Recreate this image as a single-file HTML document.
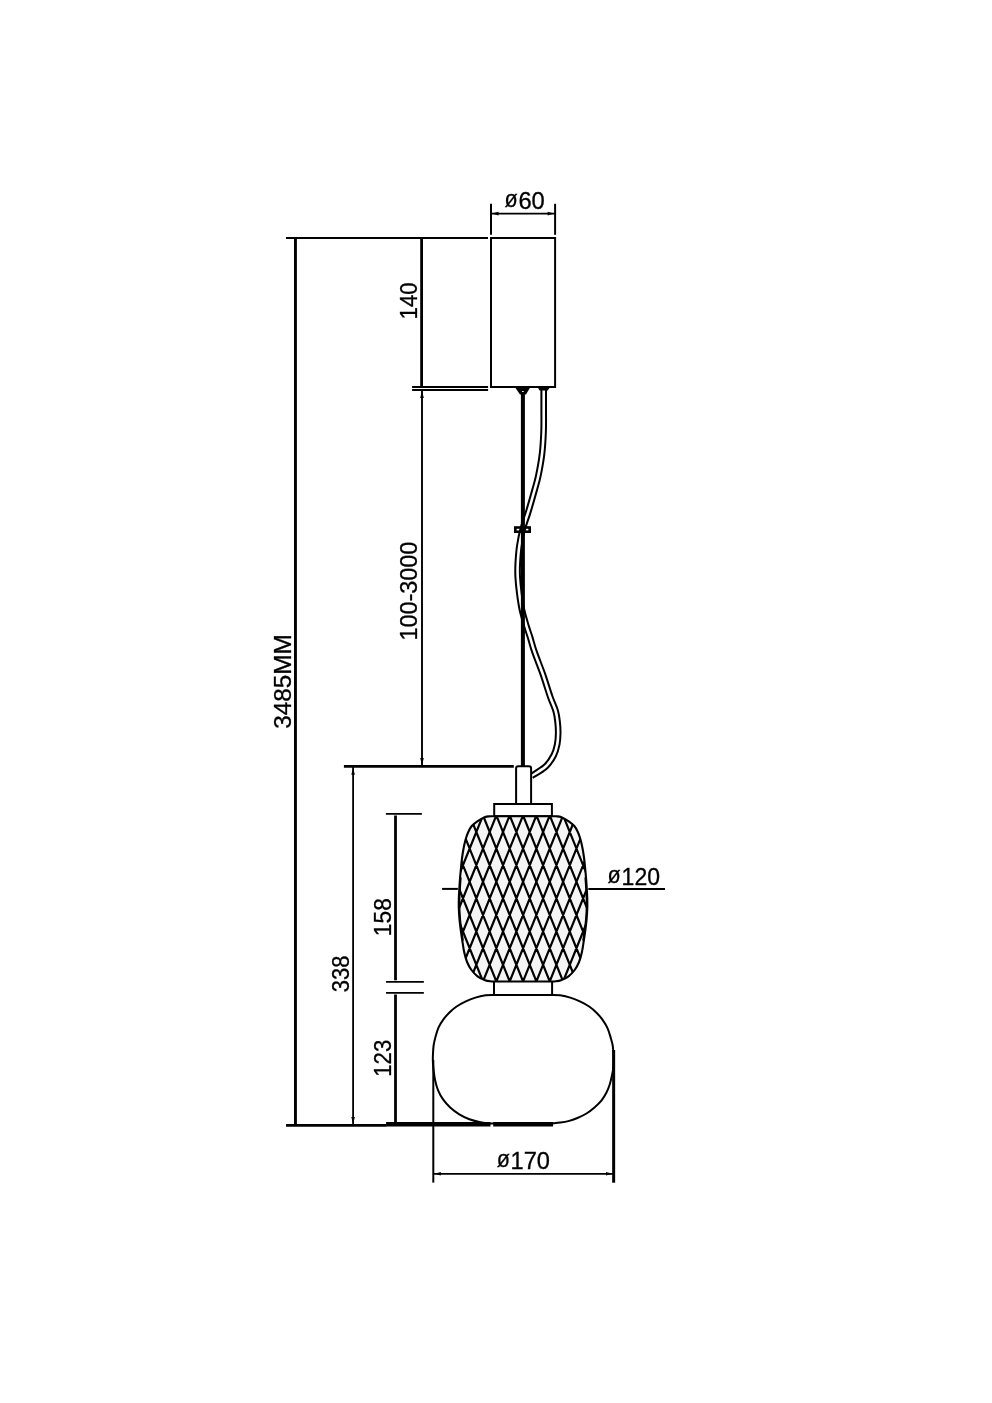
<!DOCTYPE html>
<html lang="en"><head><meta charset="utf-8"><title>Pendant lamp dimensions</title>
<style>
html,body{margin:0;padding:0;background:#fff;}
body{width:992px;height:1403px;overflow:hidden;}
svg{display:block;will-change:transform;}
svg text{font-family:"Liberation Sans", sans-serif;font-size:23.3px;fill:#000;stroke:#000;stroke-width:0.3px;}
</style></head><body>
<svg width="992" height="1403" viewBox="0 0 992 1403" fill="none" stroke="#000" stroke-linecap="butt">
<rect x="0" y="0" width="992" height="1403" fill="#fff" stroke="none"/>
<defs><clipPath id="bodyclip"><path d="M490.05,816.30 C489.13,816.45 486.67,816.37 484.55,817.20 C482.43,818.03 479.48,819.83 477.35,821.30 C475.22,822.77 473.28,824.18 471.75,826.00 C470.22,827.82 469.20,829.87 468.15,832.20 C467.10,834.53 466.23,837.20 465.45,840.00 C464.67,842.80 464.02,846.00 463.45,849.00 C462.88,852.00 462.43,855.17 462.05,858.00 C461.67,860.83 461.48,862.67 461.15,866.00 C460.82,869.33 460.35,874.30 460.05,878.00 C459.75,881.70 459.55,884.87 459.35,888.20 C459.15,891.53 458.94,894.70 458.85,898.00 C458.76,901.30 458.68,904.33 458.80,908.00 C458.92,911.67 459.22,916.33 459.55,920.00 C459.87,923.67 460.31,926.67 460.75,930.00 C461.19,933.33 461.63,936.33 462.20,940.00 C462.77,943.67 463.34,948.33 464.15,952.00 C464.96,955.67 465.83,959.00 467.05,962.00 C468.27,965.00 469.70,967.62 471.45,970.00 C473.20,972.38 475.28,974.60 477.55,976.30 C479.82,978.00 482.72,979.33 485.05,980.20 C487.38,981.07 490.47,981.28 491.55,981.50 L554.55,981.50 C555.63,981.28 558.72,981.07 561.05,980.20 C563.38,979.33 566.28,978.00 568.55,976.30 C570.82,974.60 572.90,972.38 574.65,970.00 C576.40,967.62 577.83,965.00 579.05,962.00 C580.27,959.00 581.14,955.67 581.95,952.00 C582.76,948.33 583.33,943.67 583.90,940.00 C584.47,936.33 584.91,933.33 585.35,930.00 C585.79,926.67 586.22,923.67 586.55,920.00 C586.88,916.33 587.18,911.67 587.30,908.00 C587.42,904.33 587.34,901.30 587.25,898.00 C587.16,894.70 586.95,891.53 586.75,888.20 C586.55,884.87 586.35,881.70 586.05,878.00 C585.75,874.30 585.28,869.33 584.95,866.00 C584.62,862.67 584.43,860.83 584.05,858.00 C583.67,855.17 583.22,852.00 582.65,849.00 C582.08,846.00 581.43,842.80 580.65,840.00 C579.87,837.20 579.00,834.53 577.95,832.20 C576.90,829.87 575.88,827.82 574.35,826.00 C572.82,824.18 570.88,822.77 568.75,821.30 C566.62,819.83 563.67,818.03 561.55,817.20 C559.43,816.37 556.97,816.45 556.05,816.30 Z"/></clipPath></defs>
<g id="cable">
<path d="M543.70,389.00 C543.70,392.50 543.72,403.00 543.70,410.00 C543.68,417.00 543.87,423.78 543.60,431.00 C543.33,438.22 542.97,445.90 542.10,453.30 C541.23,460.70 539.65,469.28 538.40,475.40 C537.15,481.52 536.30,483.87 534.60,490.00 C532.90,496.13 530.13,505.87 528.20,512.20 C526.27,518.53 524.47,522.47 523.00,528.00 C521.53,533.53 520.27,539.57 519.40,545.40 C518.53,551.23 518.08,557.80 517.80,563.00 C517.52,568.20 517.45,571.55 517.70,576.60 C517.95,581.65 518.58,587.73 519.30,593.30 C520.02,598.87 520.78,604.47 522.00,610.00 C523.22,615.53 525.23,621.90 526.60,626.50 C527.97,631.10 528.87,633.32 530.20,637.60 C531.53,641.88 532.48,646.07 534.60,652.20 C536.72,658.33 540.32,667.02 542.90,674.40 C545.48,681.78 547.97,690.38 550.10,696.50 C552.23,702.62 554.45,706.82 555.70,711.10 C556.95,715.38 557.18,718.50 557.60,722.20 C558.02,725.90 558.27,729.60 558.20,733.30 C558.13,737.00 557.95,740.72 557.20,744.40 C556.45,748.08 555.62,751.72 553.70,755.40 C551.78,759.08 549.40,763.07 545.70,766.50 C542.00,769.93 533.87,774.42 531.50,776.00" stroke-width="6.6"/>
<path d="M543.70,389.00 C543.70,392.50 543.72,403.00 543.70,410.00 C543.68,417.00 543.87,423.78 543.60,431.00 C543.33,438.22 542.97,445.90 542.10,453.30 C541.23,460.70 539.65,469.28 538.40,475.40 C537.15,481.52 536.30,483.87 534.60,490.00 C532.90,496.13 530.13,505.87 528.20,512.20 C526.27,518.53 524.47,522.47 523.00,528.00 C521.53,533.53 520.27,539.57 519.40,545.40 C518.53,551.23 518.08,557.80 517.80,563.00 C517.52,568.20 517.45,571.55 517.70,576.60 C517.95,581.65 518.58,587.73 519.30,593.30 C520.02,598.87 520.78,604.47 522.00,610.00 C523.22,615.53 525.23,621.90 526.60,626.50 C527.97,631.10 528.87,633.32 530.20,637.60 C531.53,641.88 532.48,646.07 534.60,652.20 C536.72,658.33 540.32,667.02 542.90,674.40 C545.48,681.78 547.97,690.38 550.10,696.50 C552.23,702.62 554.45,706.82 555.70,711.10 C556.95,715.38 557.18,718.50 557.60,722.20 C558.02,725.90 558.27,729.60 558.20,733.30 C558.13,737.00 557.95,740.72 557.20,744.40 C556.45,748.08 555.62,751.72 553.70,755.40 C551.78,759.08 549.40,763.07 545.70,766.50 C542.00,769.93 533.87,774.42 531.50,776.00" stroke="#fff" stroke-width="2.6"/>
</g>
<g id="canopy">
<rect x="491" y="238" width="64.1" height="149" stroke-width="2.0"/>
<polygon points="514.8,387 530.4,387 526,394.5 520,394.5" fill="#000" stroke="none"/>
<polygon points="537.5,387 550.2,387 547.6,390.6 539.6,390.6" fill="#000" stroke="none"/>
<rect x="522.1" y="391.0" width="1.6" height="1.8" fill="#fff" stroke="none"/>
</g>
<g id="rod">
<line x1="522.9" y1="392" x2="522.9" y2="766" stroke-width="4.0"/>
<rect x="515.3" y="527.5" width="14.4" height="4.2" stroke-width="2.6" fill="none"/>
</g>
<g id="lamp">
<path d="M516.1,803.8 L516.1,768.4 Q516.1,766.2 518.3,766.2 L528.9,766.2 Q531.1,766.2 531.1,768.4 L531.1,803.8" stroke-width="2.0" fill="#fff"/>
<rect x="494.2" y="804" width="57.7" height="12.2" stroke-width="2.0" fill="#fff"/>
<path d="M490.05,816.30 C489.13,816.45 486.67,816.37 484.55,817.20 C482.43,818.03 479.48,819.83 477.35,821.30 C475.22,822.77 473.28,824.18 471.75,826.00 C470.22,827.82 469.20,829.87 468.15,832.20 C467.10,834.53 466.23,837.20 465.45,840.00 C464.67,842.80 464.02,846.00 463.45,849.00 C462.88,852.00 462.43,855.17 462.05,858.00 C461.67,860.83 461.48,862.67 461.15,866.00 C460.82,869.33 460.35,874.30 460.05,878.00 C459.75,881.70 459.55,884.87 459.35,888.20 C459.15,891.53 458.94,894.70 458.85,898.00 C458.76,901.30 458.68,904.33 458.80,908.00 C458.92,911.67 459.22,916.33 459.55,920.00 C459.87,923.67 460.31,926.67 460.75,930.00 C461.19,933.33 461.63,936.33 462.20,940.00 C462.77,943.67 463.34,948.33 464.15,952.00 C464.96,955.67 465.83,959.00 467.05,962.00 C468.27,965.00 469.70,967.62 471.45,970.00 C473.20,972.38 475.28,974.60 477.55,976.30 C479.82,978.00 482.72,979.33 485.05,980.20 C487.38,981.07 490.47,981.28 491.55,981.50 L554.55,981.50 C555.63,981.28 558.72,981.07 561.05,980.20 C563.38,979.33 566.28,978.00 568.55,976.30 C570.82,974.60 572.90,972.38 574.65,970.00 C576.40,967.62 577.83,965.00 579.05,962.00 C580.27,959.00 581.14,955.67 581.95,952.00 C582.76,948.33 583.33,943.67 583.90,940.00 C584.47,936.33 584.91,933.33 585.35,930.00 C585.79,926.67 586.22,923.67 586.55,920.00 C586.88,916.33 587.18,911.67 587.30,908.00 C587.42,904.33 587.34,901.30 587.25,898.00 C587.16,894.70 586.95,891.53 586.75,888.20 C586.55,884.87 586.35,881.70 586.05,878.00 C585.75,874.30 585.28,869.33 584.95,866.00 C584.62,862.67 584.43,860.83 584.05,858.00 C583.67,855.17 583.22,852.00 582.65,849.00 C582.08,846.00 581.43,842.80 580.65,840.00 C579.87,837.20 579.00,834.53 577.95,832.20 C576.90,829.87 575.88,827.82 574.35,826.00 C572.82,824.18 570.88,822.77 568.75,821.30 C566.62,819.83 563.67,818.03 561.55,817.20 C559.43,816.37 556.97,816.45 556.05,816.30 Z" fill="#f5f5f5" stroke="none"/>
<g clip-path="url(#bodyclip)"><path d="M255.61,814.30 L323.64,983.50 M256.49,814.30 L188.46,983.50 M268.96,814.30 L336.99,983.50 M269.84,814.30 L201.81,983.50 M282.31,814.30 L350.34,983.50 M283.19,814.30 L215.16,983.50 M295.66,814.30 L363.69,983.50 M296.54,814.30 L228.51,983.50 M309.01,814.30 L377.04,983.50 M309.89,814.30 L241.86,983.50 M322.36,814.30 L390.39,983.50 M323.24,814.30 L255.21,983.50 M335.71,814.30 L403.74,983.50 M336.59,814.30 L268.56,983.50 M349.06,814.30 L417.09,983.50 M349.94,814.30 L281.91,983.50 M362.41,814.30 L430.44,983.50 M363.29,814.30 L295.26,983.50 M375.76,814.30 L443.79,983.50 M376.64,814.30 L308.61,983.50 M389.11,814.30 L457.14,983.50 M389.99,814.30 L321.96,983.50 M402.46,814.30 L470.49,983.50 M403.34,814.30 L335.31,983.50 M415.81,814.30 L483.84,983.50 M416.69,814.30 L348.66,983.50 M429.16,814.30 L497.19,983.50 M430.04,814.30 L362.01,983.50 M442.51,814.30 L510.54,983.50 M443.39,814.30 L375.36,983.50 M455.86,814.30 L523.89,983.50 M456.74,814.30 L388.71,983.50 M469.21,814.30 L537.24,983.50 M470.09,814.30 L402.06,983.50 M482.56,814.30 L550.59,983.50 M483.44,814.30 L415.41,983.50 M495.91,814.30 L563.94,983.50 M496.79,814.30 L428.76,983.50 M509.26,814.30 L577.29,983.50 M510.14,814.30 L442.11,983.50 M522.61,814.30 L590.64,983.50 M523.49,814.30 L455.46,983.50 M535.96,814.30 L603.99,983.50 M536.84,814.30 L468.81,983.50 M549.31,814.30 L617.34,983.50 M550.19,814.30 L482.16,983.50 M562.66,814.30 L630.69,983.50 M563.54,814.30 L495.51,983.50 M576.01,814.30 L644.04,983.50 M576.89,814.30 L508.86,983.50 M589.36,814.30 L657.39,983.50 M590.24,814.30 L522.21,983.50 M602.71,814.30 L670.74,983.50 M603.59,814.30 L535.56,983.50 M616.06,814.30 L684.09,983.50 M616.94,814.30 L548.91,983.50 M629.41,814.30 L697.44,983.50 M630.29,814.30 L562.26,983.50 M642.76,814.30 L710.79,983.50 M643.64,814.30 L575.61,983.50 M656.11,814.30 L724.14,983.50 M656.99,814.30 L588.96,983.50 M669.46,814.30 L737.49,983.50 M670.34,814.30 L602.31,983.50 M682.81,814.30 L750.84,983.50 M683.69,814.30 L615.66,983.50 M696.16,814.30 L764.19,983.50 M697.04,814.30 L629.01,983.50 M709.51,814.30 L777.54,983.50 M710.39,814.30 L642.36,983.50 M722.86,814.30 L790.89,983.50 M723.74,814.30 L655.71,983.50 M736.21,814.30 L804.24,983.50 M737.09,814.30 L669.06,983.50 M749.56,814.30 L817.59,983.50 M750.44,814.30 L682.41,983.50 M762.91,814.30 L830.94,983.50 M763.79,814.30 L695.76,983.50 M776.26,814.30 L844.29,983.50 M777.14,814.30 L709.11,983.50 M789.61,814.30 L857.64,983.50 M790.49,814.30 L722.46,983.50" stroke-width="2.2"/></g>
<path d="M490.05,816.30 C489.13,816.45 486.67,816.37 484.55,817.20 C482.43,818.03 479.48,819.83 477.35,821.30 C475.22,822.77 473.28,824.18 471.75,826.00 C470.22,827.82 469.20,829.87 468.15,832.20 C467.10,834.53 466.23,837.20 465.45,840.00 C464.67,842.80 464.02,846.00 463.45,849.00 C462.88,852.00 462.43,855.17 462.05,858.00 C461.67,860.83 461.48,862.67 461.15,866.00 C460.82,869.33 460.35,874.30 460.05,878.00 C459.75,881.70 459.55,884.87 459.35,888.20 C459.15,891.53 458.94,894.70 458.85,898.00 C458.76,901.30 458.68,904.33 458.80,908.00 C458.92,911.67 459.22,916.33 459.55,920.00 C459.87,923.67 460.31,926.67 460.75,930.00 C461.19,933.33 461.63,936.33 462.20,940.00 C462.77,943.67 463.34,948.33 464.15,952.00 C464.96,955.67 465.83,959.00 467.05,962.00 C468.27,965.00 469.70,967.62 471.45,970.00 C473.20,972.38 475.28,974.60 477.55,976.30 C479.82,978.00 482.72,979.33 485.05,980.20 C487.38,981.07 490.47,981.28 491.55,981.50 L554.55,981.50 C555.63,981.28 558.72,981.07 561.05,980.20 C563.38,979.33 566.28,978.00 568.55,976.30 C570.82,974.60 572.90,972.38 574.65,970.00 C576.40,967.62 577.83,965.00 579.05,962.00 C580.27,959.00 581.14,955.67 581.95,952.00 C582.76,948.33 583.33,943.67 583.90,940.00 C584.47,936.33 584.91,933.33 585.35,930.00 C585.79,926.67 586.22,923.67 586.55,920.00 C586.88,916.33 587.18,911.67 587.30,908.00 C587.42,904.33 587.34,901.30 587.25,898.00 C587.16,894.70 586.95,891.53 586.75,888.20 C586.55,884.87 586.35,881.70 586.05,878.00 C585.75,874.30 585.28,869.33 584.95,866.00 C584.62,862.67 584.43,860.83 584.05,858.00 C583.67,855.17 583.22,852.00 582.65,849.00 C582.08,846.00 581.43,842.80 580.65,840.00 C579.87,837.20 579.00,834.53 577.95,832.20 C576.90,829.87 575.88,827.82 574.35,826.00 C572.82,824.18 570.88,822.77 568.75,821.30 C566.62,819.83 563.67,818.03 561.55,817.20 C559.43,816.37 556.97,816.45 556.05,816.30 Z" stroke-width="2.1"/>
<path d="M460.95,878.00 C460.83,879.70 460.45,884.87 460.25,888.20 C460.05,891.53 459.84,894.70 459.75,898.00 C459.66,901.30 459.58,904.33 459.70,908.00 C459.82,911.67 460.12,916.33 460.45,920.00 C460.77,923.67 461.21,926.67 461.65,930.00 C462.09,933.33 462.86,938.33 463.10,940.00" stroke-width="1.4" stroke-linecap="round"/>
<path d="M585.15,878.00 C585.27,879.70 585.65,884.87 585.85,888.20 C586.05,891.53 586.26,894.70 586.35,898.00 C586.44,901.30 586.52,904.33 586.40,908.00 C586.28,911.67 585.98,916.33 585.65,920.00 C585.32,923.67 584.89,926.67 584.45,930.00 C584.01,933.33 583.24,938.33 583.00,940.00" stroke-width="1.4" stroke-linecap="round"/>
<line x1="494.0" y1="981.5" x2="494.0" y2="994.8" stroke-width="2.0"/>
<line x1="552.1" y1="981.5" x2="552.1" y2="994.8" stroke-width="2.0"/>
<path d="M494.05,994.90 C492.62,994.97 488.61,994.85 485.50,995.30 C482.39,995.75 478.77,996.55 475.40,997.60 C472.03,998.65 468.49,1000.08 465.30,1001.60 C462.11,1003.12 458.93,1004.85 456.25,1006.70 C453.57,1008.55 451.39,1010.52 449.20,1012.70 C447.01,1014.88 444.87,1017.37 443.10,1019.80 C441.33,1022.23 439.85,1024.53 438.60,1027.30 C437.35,1030.07 436.43,1033.37 435.60,1036.40 C434.77,1039.43 434.05,1042.30 433.60,1045.50 C433.15,1048.70 433.02,1052.85 432.90,1055.60 C432.78,1058.35 432.78,1059.57 432.90,1062.00 C433.02,1064.43 433.23,1067.17 433.60,1070.20 C433.97,1073.23 434.35,1076.85 435.10,1080.20 C435.85,1083.55 436.77,1087.10 438.10,1090.30 C439.43,1093.50 441.08,1096.53 443.10,1099.40 C445.12,1102.27 447.50,1105.02 450.20,1107.50 C452.90,1109.98 456.10,1112.35 459.30,1114.30 C462.50,1116.25 466.05,1117.92 469.40,1119.20 C472.75,1120.48 476.38,1121.33 479.40,1122.00 C482.42,1122.67 485.07,1122.95 487.50,1123.20 C489.93,1123.45 492.92,1123.45 494.00,1123.50 L552.70,1123.30 C553.95,1123.18 557.60,1122.97 560.20,1122.60 C562.80,1122.23 565.43,1121.87 568.30,1121.10 C571.17,1120.33 574.37,1119.27 577.40,1118.00 C580.43,1116.73 583.65,1115.25 586.50,1113.50 C589.35,1111.75 591.98,1109.68 594.50,1107.50 C597.02,1105.32 599.58,1102.93 601.60,1100.40 C603.62,1097.87 605.23,1094.98 606.60,1092.30 C607.97,1089.62 608.90,1087.15 609.80,1084.30 C610.70,1081.45 611.43,1077.83 612.00,1075.20 C612.57,1072.57 612.95,1070.70 613.20,1068.50 C613.45,1066.30 613.45,1064.15 613.50,1062.00 C613.55,1059.85 613.63,1058.35 613.50,1055.60 C613.37,1052.85 613.18,1048.53 612.70,1045.50 C612.22,1042.47 611.45,1040.27 610.60,1037.40 C609.75,1034.53 608.93,1031.23 607.60,1028.30 C606.27,1025.37 604.45,1022.40 602.60,1019.80 C600.75,1017.20 598.68,1014.88 596.50,1012.70 C594.32,1010.52 592.18,1008.55 589.50,1006.70 C586.82,1004.85 583.60,1003.12 580.40,1001.60 C577.20,1000.08 573.67,998.65 570.30,997.60 C566.93,996.55 563.25,995.75 560.20,995.30 C557.15,994.85 553.37,994.97 552.00,994.90 Z" stroke-width="2.0"/>
</g>
<g id="dims">
<line x1="491" y1="203.8" x2="491" y2="234.8" stroke-width="2.0"/>
<line x1="555.1" y1="203.8" x2="555.1" y2="234.8" stroke-width="2.0"/>
<line x1="491" y1="213.6" x2="555.1" y2="213.6" stroke-width="1.6"/>
<polygon points="492,213.6 498.50,215.40 498.50,211.80" fill="#000" stroke="none"/>
<polygon points="554.1,213.6 547.60,211.80 547.60,215.40" fill="#000" stroke="none"/>
<line x1="286" y1="238" x2="488" y2="238" stroke-width="2.0"/>
<line x1="295.45" y1="238" x2="295.45" y2="1125" stroke-width="2.9"/>
<line x1="421.6" y1="238" x2="421.6" y2="386.0" stroke-width="2.8"/>
<line x1="412.1" y1="387.0" x2="488.1" y2="387.0" stroke-width="2.0"/>
<line x1="412.1" y1="390.0" x2="488.1" y2="390.0" stroke-width="1.8"/>
<line x1="422.0" y1="391" x2="422.0" y2="766" stroke-width="1.9"/>
<polygon points="422.0,391.0 420.20,398.00 423.80,398.00" fill="#000" stroke="none"/>
<polygon points="422.0,765 423.80,758.00 420.20,758.00" fill="#000" stroke="none"/>
<line x1="343.9" y1="766.4" x2="513.8" y2="766.4" stroke-width="2.6"/>
<line x1="353.1" y1="767" x2="353.1" y2="1124" stroke-width="1.8"/>
<polygon points="353.1,767.7 351.30,774.70 354.90,774.70" fill="#000" stroke="none"/>
<polygon points="353.1,1124.0 354.90,1117.00 351.30,1117.00" fill="#000" stroke="none"/>
<line x1="385.9" y1="813.9" x2="421.9" y2="813.9" stroke-width="1.9"/>
<line x1="395.5" y1="815.5" x2="395.5" y2="980.3" stroke-width="2.8"/>
<line x1="386.05" y1="981.9" x2="423.85" y2="981.9" stroke-width="1.9"/>
<line x1="386.05" y1="992.9" x2="423.85" y2="992.9" stroke-width="1.9"/>
<line x1="395.5" y1="994.5" x2="395.5" y2="1122.5" stroke-width="2.8"/>
<line x1="286.05" y1="1125.4" x2="386.5" y2="1125.4" stroke-width="2.8"/>
<line x1="386.1" y1="1124.3" x2="490.5" y2="1124.3" stroke-width="4.6"/>
<line x1="493.2" y1="1124.3" x2="553.1" y2="1124.3" stroke-width="4.6"/>
<line x1="442.1" y1="888.9" x2="457.9" y2="888.9" stroke-width="2.0"/>
<line x1="588.3" y1="889.0" x2="665" y2="889.0" stroke-width="2.0"/>
<line x1="433.3" y1="1060" x2="433.3" y2="1182.6" stroke-width="2.0"/>
<line x1="613.65" y1="1050" x2="613.65" y2="1182.7" stroke-width="3.0"/>
<line x1="433.3" y1="1173.8" x2="613.5" y2="1173.8" stroke-width="1.8"/>
<polygon points="434.3,1173.8 440.80,1175.60 440.80,1172.00" fill="#000" stroke="none"/>
<polygon points="612.5,1173.8 606.00,1172.00 606.00,1175.60" fill="#000" stroke="none"/>
</g>
<g id="labels">
<text x="504.6" y="206.7" style="font-size:24.5px" textLength="13.2" lengthAdjust="spacingAndGlyphs">ø</text><text x="518.4" y="208.6" textLength="26.4" lengthAdjust="spacingAndGlyphs">60</text>
<text transform="translate(416.9,319.4) rotate(-90)" textLength="37.0" lengthAdjust="spacingAndGlyphs">140</text>
<text transform="translate(417.0,640.6) rotate(-90)" textLength="99.0" lengthAdjust="spacingAndGlyphs">100-3000</text>
<text transform="translate(291.1,728.8) rotate(-90)" textLength="94.6" lengthAdjust="spacingAndGlyphs">3485MM</text>
<text transform="translate(348.7,992.2) rotate(-90)" textLength="36.6" lengthAdjust="spacingAndGlyphs">338</text>
<text transform="translate(391.0,936.2) rotate(-90)" textLength="38.0" lengthAdjust="spacingAndGlyphs">158</text>
<text transform="translate(391.0,1076.7) rotate(-90)" textLength="36.9" lengthAdjust="spacingAndGlyphs">123</text>
<text x="607.5" y="882.8" style="font-size:24.5px" textLength="13.2" lengthAdjust="spacingAndGlyphs">ø</text><text x="621.6" y="884.7" textLength="38.4" lengthAdjust="spacingAndGlyphs">120</text>
<text x="496.7" y="1166.7" style="font-size:24.5px" textLength="13.2" lengthAdjust="spacingAndGlyphs">ø</text><text x="510.6" y="1168.6" textLength="39.4" lengthAdjust="spacingAndGlyphs">170</text>
</g>
</svg></body></html>
